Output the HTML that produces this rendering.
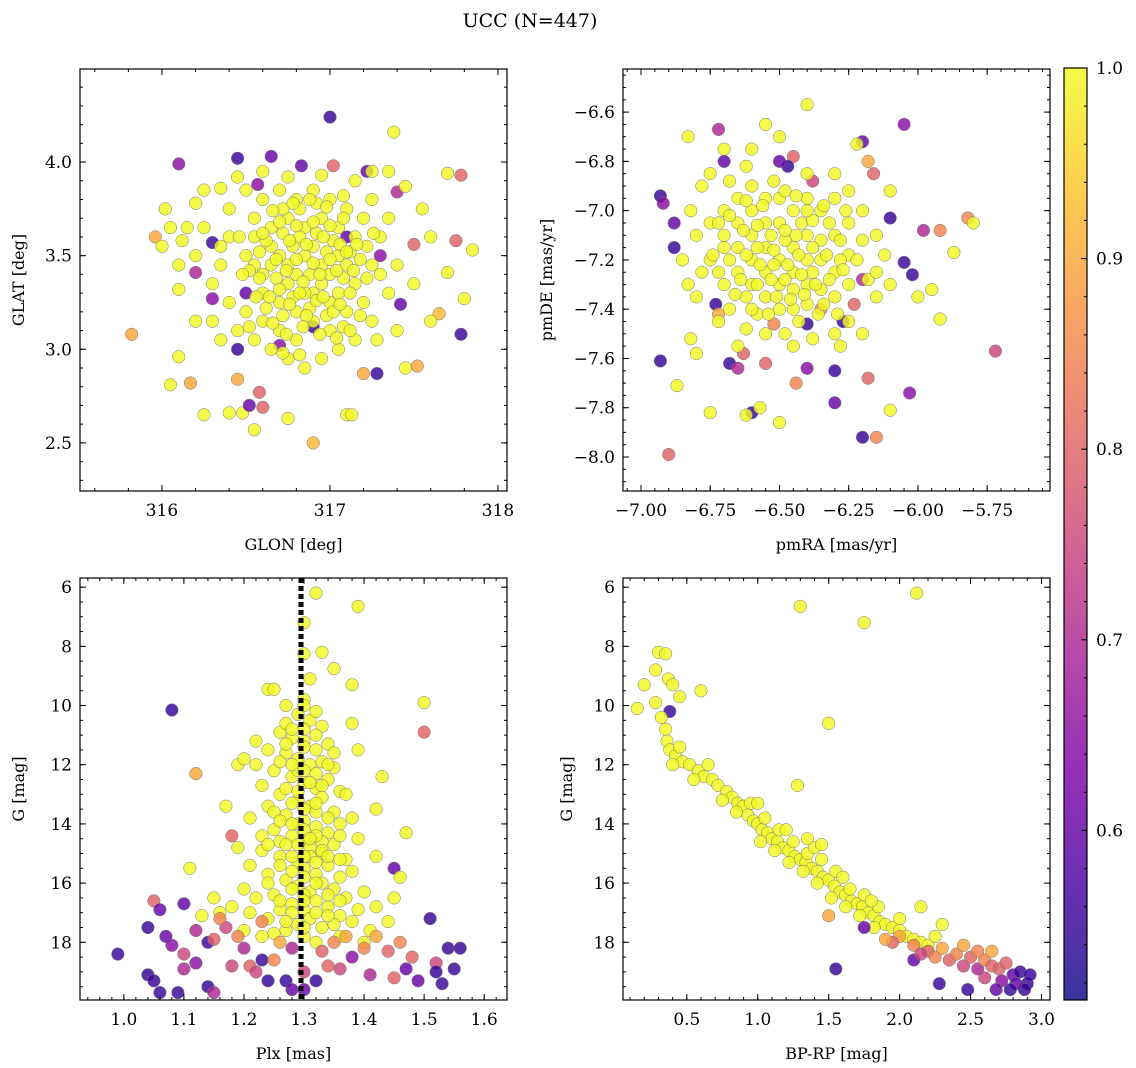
<!DOCTYPE html>
<html><head><meta charset="utf-8">
<style>
html,body{margin:0;padding:0;background:#fff;}
svg{display:block;font-family:"DejaVu Serif","Liberation Serif",serif;}
</style></head>
<body>
<svg id="fig" width="1136" height="1068" viewBox="0 0 1136 1068" xmlns="http://www.w3.org/2000/svg">
<defs>
<linearGradient id="plasma" x1="0" y1="1" x2="0" y2="0">
<stop offset="0" stop-color="#0d0887"/><stop offset="0.125" stop-color="#4c02a1"/>
<stop offset="0.25" stop-color="#7e03a8"/><stop offset="0.375" stop-color="#a92395"/>
<stop offset="0.5" stop-color="#cc4778"/><stop offset="0.625" stop-color="#e66c5c"/>
<stop offset="0.75" stop-color="#f89540"/><stop offset="0.875" stop-color="#fdc527"/>
<stop offset="1" stop-color="#f0f921"/>
</linearGradient>
</defs>
<text x="530" y="27" font-size="19" text-anchor="middle">UCC (N=447)</text>
</svg>
<script>
// Panel 1: GLON / GLAT / probability
const panel1Stars = [
[317.0,4.24,0.55],[317.38,4.16],[316.1,3.99,0.65],[316.45,4.02,0.55],[316.65,4.03,0.6],[316.83,3.98,0.6],[317.02,3.98,0.8],[317.22,3.95,0.6],[317.25,3.95],[317.7,3.94],[317.78,3.93,0.8],[316.02,3.75],[315.96,3.6,0.9],[315.82,3.08,0.9],[316.05,2.81],[316.1,2.96],[316.17,2.82,0.9],[316.25,2.65],[316.4,2.66],[316.48,2.66],[316.55,2.57],[316.52,2.7,0.6],[316.58,2.77,0.8],[316.6,2.69,0.8],[316.75,2.63],[316.9,2.5,0.92],[317.1,2.65],[317.13,2.65],[317.2,2.87,0.9],[317.28,2.87,0.55],[317.45,2.9],[317.52,2.91,0.9],[317.65,3.19,0.92],[317.78,3.08,0.55],[317.8,3.27],[317.85,3.53],[317.75,3.58,0.8],[317.7,3.41],[317.5,3.56,0.8],[317.42,3.24,0.6],[317.4,3.84,0.7],[317.45,3.87],[316.45,3.0,0.55],[316.5,3.3,0.6],[316.3,3.27,0.65],[316.3,3.57,0.55],[316.2,3.41,0.7],[316.1,3.32],[316.12,3.58],[316.2,3.78],[316.35,3.86],[316.45,2.84,0.9],[316.57,3.88,0.65],[317.3,3.5,0.65],[316.9,3.12,0.55],[317.1,3.6,0.6],[316.7,3.02,0.65],
[316.4,3.6],[316.5,3.5],[316.55,3.45],[316.6,3.4],[316.65,3.55],[316.7,3.5],[316.75,3.45],[316.8,3.4],[316.85,3.5],[316.9,3.55],[316.95,3.45],[317.0,3.4],[317.05,3.5],[317.1,3.45],[316.6,3.3],[316.7,3.25],[316.8,3.2],[316.9,3.3],[317.0,3.25],[316.75,3.35],[316.85,3.3],[316.95,3.35],[317.05,3.3],[317.15,3.35],[316.65,3.65],[316.75,3.7],[316.85,3.65],[316.95,3.7],[317.05,3.65],[317.15,3.6],[316.55,3.7],[316.5,3.2],[316.6,3.15],[316.7,3.1],[316.8,3.05],[316.9,3.15],[317.0,3.1],[317.1,3.2],[317.2,3.25],[317.25,3.45],[317.3,3.6],[317.2,3.7],[317.1,3.75],[317.0,3.8],[316.9,3.85],[316.8,3.8],[316.7,3.85],[316.6,3.8],[316.5,3.85],[316.4,3.75],[316.35,3.45],[316.3,3.35],[316.4,3.25],[316.45,3.1],[316.55,3.05],[316.65,3.0],[316.75,2.95],[316.85,2.9],[316.95,2.95],[317.05,3.0],[317.15,3.05],[317.25,3.15],[317.35,3.3],[317.3,3.4],[317.35,3.7],[317.25,3.8],[317.15,3.9],[316.95,3.93],[316.75,3.92],[316.6,3.95],[316.45,3.92],[316.35,3.55],[316.25,3.65],[316.2,3.5],[316.3,3.15],[316.35,3.05],[316.2,3.15],[316.15,3.65],[316.05,3.65],[316.25,3.85],[316.55,3.6],[316.65,3.45],[316.72,3.62],[316.78,3.55],[316.82,3.6],[316.88,3.4],[316.92,3.62],[316.98,3.52],[317.02,3.58],[317.08,3.38],[317.12,3.52],[317.18,3.48],[316.62,3.22],[316.72,3.18],[316.78,3.28],[316.88,3.22],[316.98,3.18],[317.08,3.12],[316.58,3.52],[316.68,3.38],[317.22,3.55],[317.28,3.05],[317.4,3.1],[317.5,3.35],[317.6,3.15],[317.55,3.75],[317.6,3.6],[317.35,3.95],[316.1,3.45],[316.0,3.55],[317.4,3.45],[316.82,3.75],[316.92,3.78],[316.72,3.75],
[316.52,3.42],[316.58,3.38],[316.62,3.58],[316.68,3.48],[316.74,3.42],[316.76,3.58],[316.8,3.48],[316.84,3.36],[316.86,3.56],[316.9,3.46],[316.94,3.4],[316.96,3.6],[317.0,3.48],[317.04,3.42],[317.06,3.56],[317.1,3.52],[317.14,3.42],[317.16,3.56],[316.64,3.28],[316.7,3.32],[316.76,3.24],[316.82,3.3],[316.86,3.18],[316.92,3.26],[316.96,3.28],[317.02,3.2],[317.06,3.24],[317.12,3.3],[317.18,3.18],[316.66,3.14],[316.74,3.08],[316.84,3.12],[316.94,3.08],[317.04,3.06],[316.6,3.62],[316.7,3.68],[316.8,3.66],[316.9,3.68],[317.0,3.66],[317.08,3.7],[316.66,3.74],[316.78,3.78],[316.88,3.8],[316.98,3.76],[317.08,3.82],[316.56,3.28],[316.48,3.4],[316.46,3.6],[317.22,3.38],[317.26,3.62],[316.72,2.98],[316.82,2.97],[316.52,3.12],[317.12,3.1]
];
// Panel 2: pmRA / pmDE / probability
const panel2Stars = [
[-6.93,-6.94,0.55],[-6.92,-6.97,0.65],[-6.88,-7.05,0.6],[-6.88,-7.15,0.55],[-6.93,-7.61,0.55],[-6.9,-7.99,0.8],[-6.72,-6.67,0.7],[-6.7,-6.8,0.6],[-6.73,-7.38,0.55],[-6.72,-7.42,0.9],[-6.68,-7.62,0.55],[-6.65,-7.64,0.7],[-6.6,-7.82,0.55],[-6.55,-7.62,0.8],[-6.63,-7.58,0.8],[-6.45,-6.78,0.8],[-6.47,-6.82,0.55],[-6.5,-6.8,0.6],[-6.38,-6.88,0.75],[-6.4,-7.64,0.65],[-6.4,-7.46,0.55],[-6.3,-7.65,0.55],[-6.3,-7.78,0.6],[-6.27,-7.45,0.55],[-6.2,-6.72,0.6],[-6.2,-7.28,0.7],[-6.18,-7.68,0.8],[-6.2,-7.92,0.55],[-6.15,-7.92,0.85],[-6.18,-6.8,0.9],[-6.16,-6.85,0.8],[-6.1,-7.03,0.55],[-6.05,-6.65,0.65],[-6.05,-7.21,0.55],[-6.02,-7.26,0.55],[-6.03,-7.74,0.65],[-5.98,-7.08,0.7],[-5.92,-7.08,0.85],[-5.82,-7.03,0.85],[-5.72,-7.57,0.75],[-6.35,-7.4,0.85],[-6.23,-7.38,0.8],[-6.52,-7.46,0.85],[-6.44,-7.7,0.85],
[-6.83,-6.7],[-6.87,-7.71],[-6.82,-7.52],[-6.8,-7.58],[-6.75,-7.82],[-6.62,-7.83],[-6.57,-7.8],[-6.5,-7.86],[-6.1,-7.81],[-5.95,-7.32],[-5.92,-7.44],[-5.87,-7.17],[-5.8,-7.05],[-6.4,-6.57],[-6.55,-6.65],[-6.5,-6.7],[-6.22,-6.73],[-6.1,-6.92],[-6.0,-7.35],[-6.15,-7.35],
[-6.7,-7.0],[-6.65,-7.05],[-6.6,-7.1],[-6.55,-7.15],[-6.5,-7.2],[-6.45,-7.25],[-6.4,-7.3],[-6.35,-7.2],[-6.3,-7.1],[-6.25,-7.05],[-6.6,-7.3],[-6.55,-7.35],[-6.5,-7.3],[-6.45,-7.15],[-6.4,-7.1],[-6.35,-7.0],[-6.3,-7.25],[-6.25,-7.3],[-6.5,-7.05],[-6.45,-7.0],[-6.4,-6.95],[-6.55,-6.95],[-6.6,-6.9],[-6.65,-6.95],[-6.7,-7.15],[-6.75,-7.2],[-6.7,-7.3],[-6.65,-7.25],[-6.6,-7.2],[-6.55,-7.25],[-6.5,-7.4],[-6.45,-7.4],[-6.4,-7.38],[-6.35,-7.32],[-6.3,-7.35],[-6.25,-7.18],[-6.2,-7.12],[-6.2,-7.0],[-6.25,-6.92],[-6.3,-6.95],[-6.35,-7.12],[-6.4,-7.2],[-6.45,-7.32],[-6.55,-7.05],[-6.6,-7.0],[-6.65,-7.15],[-6.7,-7.1],[-6.75,-7.05],[-6.8,-7.1],[-6.78,-7.25],[-6.72,-7.45],[-6.62,-7.48],[-6.55,-7.5],[-6.48,-7.5],[-6.38,-7.52],[-6.28,-7.55],[-6.22,-7.2],[-6.18,-7.28],[-6.15,-7.1],[-6.12,-7.18],[-6.3,-6.85],[-6.4,-6.85],[-6.52,-6.88],[-6.62,-6.82],[-6.68,-6.88],[-6.78,-6.9],[-6.82,-7.0],[-6.85,-7.2],[-6.8,-7.35],[-6.68,-7.4],[-6.58,-7.42],[-6.42,-7.05],[-6.48,-7.12],[-6.52,-7.22],[-6.58,-7.15],[-6.38,-7.25],[-6.32,-7.05],[-6.28,-7.2],[-6.62,-7.35],[-6.48,-7.28],[-6.44,-7.1],[-6.36,-7.42],[-6.7,-6.75],[-6.6,-6.75],[-6.75,-6.85],[-6.83,-7.3],[-6.65,-7.55],[-6.45,-7.55],[-6.3,-7.5],[-6.25,-7.45],[-6.2,-7.5],[-6.15,-7.25],[-6.1,-7.3],
[-6.68,-7.02],[-6.63,-7.08],[-6.58,-7.06],[-6.53,-7.1],[-6.48,-7.08],[-6.43,-7.18],[-6.38,-7.15],[-6.33,-7.18],[-6.28,-7.12],[-6.62,-7.18],[-6.57,-7.22],[-6.52,-7.16],[-6.47,-7.22],[-6.42,-7.26],[-6.37,-7.3],[-6.32,-7.28],[-6.27,-7.24],[-6.64,-7.28],[-6.58,-7.3],[-6.53,-7.28],[-6.46,-7.36],[-6.41,-7.34],[-6.34,-7.38],[-6.66,-7.34],[-6.56,-6.98],[-6.5,-6.95],[-6.44,-6.94],[-6.38,-7.04],[-6.34,-6.98],[-6.62,-6.96],[-6.72,-7.05],[-6.74,-7.18],[-6.72,-7.25],[-6.68,-7.2],[-6.51,-7.35],[-6.54,-7.42],[-6.6,-7.4],[-6.43,-7.45],[-6.29,-7.42],[-6.26,-7.0],[-6.48,-6.92],[-6.4,-7.0]
];
// Panel 3: Plx / G / probability
const panel3Stars = [
[1.32,6.2],[1.39,6.65],[1.3,7.2],[1.3,8.25],[1.33,8.2],[1.35,8.75],[1.24,9.45],[1.25,9.45],[1.31,9.1],[1.38,9.3],[1.5,9.9],[1.12,12.3,0.9],[1.11,15.5],[1.17,13.4],[1.19,14.8],[1.43,12.4],[1.42,13.5],[1.47,14.3],[1.5,10.9,0.8],[1.08,10.15,0.55],[1.18,14.4,0.8],[1.19,12.0],[1.2,11.8],[1.45,15.5,0.6],
[1.27,10.0],[1.29,10.3],[1.31,10.5],[1.33,10.7],[1.26,10.9],[1.28,11.1],[1.3,11.2],[1.32,11.0],[1.34,11.3],[1.22,11.2],[1.24,11.5],[1.27,11.6],[1.29,11.8],[1.31,12.0],[1.33,11.9],[1.35,12.1],[1.25,12.2],[1.28,12.4],[1.3,12.6],[1.32,12.8],[1.34,12.5],[1.36,12.9],[1.23,12.7],[1.26,13.0],[1.29,13.2],[1.31,13.4],[1.33,13.1],[1.35,13.6],[1.24,13.4],[1.27,13.7],[1.3,13.9],[1.32,14.1],[1.34,14.3],[1.36,14.0],[1.38,13.8],[1.25,14.2],[1.28,14.4],[1.3,14.6],[1.31,14.8],[1.33,15.0],[1.35,14.7],[1.37,15.2],[1.23,14.9],[1.26,15.1],[1.29,15.3],[1.3,15.5],[1.32,15.7],[1.34,15.4],[1.36,15.8],[1.38,15.6],[1.21,15.4],[1.24,15.7],[1.27,15.9],[1.29,16.1],[1.31,16.3],[1.33,16.0],[1.35,16.2],[1.37,16.5],[1.4,16.3],[1.2,16.2],[1.22,16.5],[1.25,16.4],[1.28,16.7],[1.3,16.9],[1.32,16.6],[1.34,16.8],[1.36,17.1],[1.39,16.9],[1.42,16.8],[1.18,16.8],[1.21,17.0],[1.24,17.2],[1.26,16.9],[1.29,17.4],[1.31,17.2],[1.33,17.5],[1.35,17.4],[1.38,17.3],[1.41,17.6],[1.44,17.3],[1.16,17.0],[1.2,17.6],[1.23,17.8],[1.27,17.6],[1.3,17.8],[1.32,18.0],[1.36,17.8],[1.4,18.0],[1.26,14.6],[1.28,15.6],[1.32,13.6],[1.35,11.6],[1.29,12.2],[1.3,9.8],[1.3,10.8],[1.27,11.3],[1.33,14.6],[1.31,15.1],[1.29,14.0],[1.25,13.6],[1.37,13.0],[1.39,14.5],[1.21,13.8],[1.23,14.4],[1.45,16.5],[1.46,15.8],[1.15,16.5],[1.13,17.1],[1.42,15.1],[1.39,11.5],[1.38,10.6],[1.22,12.0],
[1.27,10.6],[1.3,10.0],[1.32,10.2],[1.28,10.8],[1.3,11.4],[1.32,11.5],[1.26,11.9],[1.28,12.0],[1.3,12.2],[1.32,12.3],[1.34,12.0],[1.27,12.8],[1.29,12.9],[1.31,12.6],[1.33,12.7],[1.28,13.3],[1.3,13.5],[1.32,13.3],[1.34,13.8],[1.26,13.9],[1.28,14.0],[1.3,14.2],[1.32,14.4],[1.27,14.7],[1.29,14.7],[1.31,14.5],[1.33,14.9],[1.28,15.1],[1.3,15.1],[1.32,15.3],[1.34,15.1],[1.26,15.4],[1.3,15.8],[1.32,16.0],[1.28,16.2],[1.3,16.4],[1.34,16.4],[1.26,16.6],[1.3,16.6],[1.28,17.0],[1.32,17.0],[1.34,17.1],[1.27,17.3],[1.25,17.7],[1.3,17.5],[1.36,16.6],[1.24,16.0],[1.36,15.2],[1.24,14.7],[1.36,14.4],
[1.05,16.6,0.8],[1.06,16.9,0.6],[1.1,16.7,0.6],[1.04,17.5,0.55],[1.07,17.8,0.6],[1.08,18.1,0.65],[1.12,17.6,0.7],[1.14,18.0,0.55],[1.15,17.9,0.8],[1.17,17.5,0.75],[1.19,17.8,0.85],[1.2,18.2,0.7],[1.18,18.8,0.75],[1.21,18.8,0.8],[1.23,18.6,0.55],[1.24,19.3,0.55],[1.25,18.6,0.85],[1.27,19.3,0.55],[1.28,19.6,0.6],[1.3,19.6,0.6],[1.3,19.0,0.75],[1.32,19.3,0.55],[1.34,18.8,0.8],[1.35,18.0,0.85],[1.37,17.8,0.9],[1.38,18.5,0.65],[1.4,18.2,0.85],[1.42,17.8,0.9],[1.44,18.3,0.8],[1.46,18.0,0.85],[1.48,18.5,0.8],[1.41,19.1,0.7],[1.47,18.9,0.6],[1.51,17.2,0.55],[1.52,18.7,0.75],[1.52,19.0,0.55],[1.54,18.2,0.55],[1.56,18.2,0.55],[1.55,18.9,0.55],[1.53,19.4,0.55],[0.99,18.4,0.55],[1.04,19.1,0.55],[1.05,19.3,0.55],[1.06,19.7,0.55],[1.09,19.7,0.55],[1.1,18.9,0.7],[1.12,18.7,0.65],[1.14,19.5,0.55],[1.15,19.7,0.7],[1.1,18.4,0.75],[1.16,17.2,0.85],[1.23,17.3,0.85],[1.28,18.2,0.7],[1.33,18.3,0.8],[1.36,18.9,0.75],[1.45,19.2,0.8],[1.49,19.3,0.6],[1.26,18.0,0.9],[1.22,19.0,0.75]
];
const panel3PlxLine = 1.295;
// Panel 4: BP-RP / G / probability
const panel4Stars = [
[0.3,8.2],[0.35,8.25],[0.28,8.8],[0.37,9.1],[0.4,9.3],[0.45,9.7],[0.2,9.3],[0.28,9.9],[0.15,10.1],[0.6,9.5],[1.3,6.65],[2.12,6.2],[1.75,7.2],[1.5,10.6],[0.38,10.2,0.55],[1.28,12.7],
[0.32,10.4],[0.35,10.8],[0.36,11.2],[0.38,11.5],[0.42,11.7],[0.47,11.9],[0.52,12.0],[0.58,12.2],[0.62,12.4],[0.68,12.5],[0.72,12.7],[0.78,12.9],[0.82,13.1],[0.86,13.3],[0.9,13.4],[0.93,13.7],[0.97,13.9],[1.0,14.0],[1.03,14.2],[1.07,14.3],[1.1,14.5],[1.14,14.6],[1.18,14.8],[1.22,14.9],[1.26,15.1],[1.3,15.2],[1.34,15.3],[1.38,15.5],[1.42,15.6],[1.46,15.8],[1.5,15.9],[1.54,16.1],[1.58,16.3],[1.62,16.4],[1.66,16.6],[1.7,16.7],[1.74,16.8],[1.78,17.0],[1.82,17.1],[1.86,17.3],[1.9,17.4],[1.95,17.5],[2.0,17.6],[2.05,17.8],[2.1,17.9],[2.15,18.0],[2.2,18.1],[0.95,13.3],[1.05,13.8],[1.15,14.2],[1.25,14.6],[1.35,15.0],[1.45,15.2],[1.55,15.6],[1.65,16.2],[1.75,16.4],[1.85,16.8],[1.02,14.6],[1.12,14.9],[1.22,15.3],[1.32,15.6],[1.42,16.0],[1.52,16.5],[1.62,16.8],[1.72,17.1],[1.82,17.5],[0.55,12.5],[0.75,13.2],[0.85,13.6],[0.65,12.0],[0.45,11.4],[0.4,12.0],[1.0,13.3],[1.2,14.2],[1.4,14.8],[1.6,15.8],[1.8,16.6],[2.0,17.2],[2.15,16.8],[2.25,17.8],[2.3,17.4],[1.45,14.7],[1.35,14.5],[1.5,17.1,0.9],
[2.0,17.8,0.9],[2.1,18.1,0.85],[2.2,18.3,0.8],[2.25,18.5,0.85],[2.3,18.2,0.9],[2.35,18.6,0.8],[2.4,18.4,0.85],[2.45,18.8,0.75],[2.5,18.5,0.8],[2.55,18.9,0.7],[2.6,18.6,0.85],[2.65,18.3,0.9],[2.7,18.9,0.8],[2.72,19.3,0.65],[2.75,18.7,0.8],[2.8,19.1,0.6],[2.85,19.0,0.55],[2.9,19.4,0.55],[2.88,19.6,0.55],[2.82,19.4,0.6],[2.78,19.6,0.55],[2.92,19.1,0.55],[2.68,19.6,0.6],[2.6,19.2,0.75],[2.48,19.6,0.55],[2.28,19.4,0.55],[2.1,18.6,0.6],[1.75,17.5,0.6],[1.55,18.9,0.55],[2.45,18.1,0.9],[2.55,18.3,0.85],[2.65,18.8,0.8],[1.95,18.0,0.8],[2.15,18.4,0.75],[1.9,17.9,0.9]
];
const panel1XTicks = [316,317,318];
const panel1YTicks = [2.5,3.0,3.5,4.0];
const panel2XTicks = [-7.0,-6.75,-6.5,-6.25,-6.0,-5.75];
const panel2YTicks = [-8.0,-7.8,-7.6,-7.4,-7.2,-7.0,-6.8,-6.6];
const panel3XTicks = [1.0,1.1,1.2,1.3,1.4,1.5,1.6];
const gTicks = [6,8,10,12,14,16,18];
const panel4XTicks = [0.5,1.0,1.5,2.0,2.5,3.0];
const cbarTicks = [0.6,0.7,0.8,0.9,1.0];
const cbarMin = 0.511, cbarMax = 1.0;

const NS = "http://www.w3.org/2000/svg";
const svg = document.getElementById('fig');
function mk(tag, attrs, parent){const e=document.createElementNS(NS,tag);for(const k in attrs)e.setAttribute(k,attrs[k]);(parent||svg).appendChild(e);return e;}

const plasmaStops=[[0,13,8,135],[0.125,76,2,161],[0.25,126,3,168],[0.375,169,35,149],[0.5,204,71,120],[0.625,230,108,92],[0.75,248,149,64],[0.875,253,197,39],[1,240,249,33]];
function plasma(v){let t=(v-cbarMin)/(cbarMax-cbarMin);t=Math.max(0,Math.min(1,t));
 for(let i=1;i<plasmaStops.length;i++){if(t<=plasmaStops[i][0]){const a=plasmaStops[i-1],b=plasmaStops[i];const f=(t-a[0])/(b[0]-a[0]);
 return 'rgb('+[1,2,3].map(j=>Math.round(a[j]+(b[j]-a[j])*f)).join(',')+')';}}return 'rgb(240,249,33)';}

function fmt(v,d){return (v<0?'\u2212':'')+Math.abs(v).toFixed(d);}

function panel(cfg){
 const {name,L,R,T,B,x0,x1,y0,y1,yInv,xTicks,yTicks,xMinor,yMinor,xd,yd,xLabel,yLabel,stars}=cfg;
 const g=mk('g',{});
 
 
 const sx=v=>L+(v-x0)/(x1-x0)*(R-L);
 const sy=v=>yInv? T+(v-y0)/(y1-y0)*(B-T) : B-(v-y0)/(y1-y0)*(B-T);
 const clip=mk('clipPath',{id:'clip-'+name},g);mk('rect',{x:L,y:T,width:R-L,height:B-T},clip);
 const pts=mk('g',{'clip-path':'url(#clip-'+name+')'},g);
 
 
 stars.forEach(s=>{const p=s.length>2?s[2]:1;
  const c=mk('circle',{cx:sx(s[0]).toFixed(1),cy:sy(s[1]).toFixed(1),r:6.3,fill:plasma(p),'fill-opacity':0.82,stroke:'#777','stroke-width':0.5},pts);
  
  });
 if(cfg.vline!==undefined){const l=mk('line',{x1:sx(cfg.vline),x2:sx(cfg.vline),y1:T,y2:B,stroke:'#000','stroke-width':5,'stroke-dasharray':'5,3'},g);
  
  }
 const lo=Math.min(x0,x1),hi=Math.max(x0,x1);
 for(let v=Math.ceil(lo/xMinor-1e-6)*xMinor;v<=hi+1e-9;v+=xMinor){const x=sx(v);mk('line',{x1:x,x2:x,y1:B,y2:B-3,stroke:'#000'},g);mk('line',{x1:x,x2:x,y1:T,y2:T+3,stroke:'#000'},g);}
 const ylo=Math.min(y0,y1),yhi=Math.max(y0,y1);
 for(let v=Math.ceil(ylo/yMinor-1e-6)*yMinor;v<=yhi+1e-9;v+=yMinor){const y=sy(v);mk('line',{x1:L,x2:L+3,y1:y,y2:y,stroke:'#000'},g);mk('line',{x1:R,x2:R-3,y1:y,y2:y,stroke:'#000'},g);}
 xTicks.forEach(v=>{const x=sx(v);mk('line',{x1:x,x2:x,y1:B,y2:B-6,stroke:'#000'},g);mk('line',{x1:x,x2:x,y1:T,y2:T+6,stroke:'#000'},g);
  const t=mk('text',{x:x,y:B+25,'font-size':17,'text-anchor':'middle'},g);t.textContent=fmt(v,xd);
  
  });
 yTicks.forEach(v=>{const y=sy(v);mk('line',{x1:L,x2:L+6,y1:y,y2:y,stroke:'#000'},g);mk('line',{x1:R,x2:R-6,y1:y,y2:y,stroke:'#000'},g);
  const t=mk('text',{x:L-8,y:y+6,'font-size':17,'text-anchor':'end'},g);t.textContent=fmt(v,yd);
  
  });
 const fr=mk('rect',{x:L,y:T,width:R-L,height:B-T,fill:'none',stroke:'#000','stroke-width':1.2},g);
 
 
 const xl=mk('text',{x:(L+R)/2,y:B+59,'font-size':16,'text-anchor':'middle'},g);xl.textContent=xLabel;
 
 
 const yl=mk('text',{x:0,y:0,'font-size':16,'text-anchor':'middle',transform:'translate('+cfg.yLabelX+','+((T+B)/2)+') rotate(-90)'},g);yl.textContent=yLabel;
 
 
}

panel({name:'glon-glat-panel',L:80,R:507,T:69,B:491,x0:315.512,x1:318.054,y0:2.243,y1:4.497,yInv:false,xTicks:panel1XTicks,yTicks:panel1YTicks,xMinor:0.2,yMinor:0.1,xd:0,yd:1,xLabel:'GLON [deg]',yLabel:'GLAT [deg]',yLabelX:24,stars:panel1Stars});
panel({name:'proper-motion-panel',L:623,R:1050,T:69,B:491,x0:-7.065,x1:-5.523,y0:-8.138,y1:-6.425,yInv:false,xTicks:panel2XTicks,yTicks:panel2YTicks,xMinor:0.05,yMinor:0.05,xd:2,yd:1,xLabel:'pmRA [mas/yr]',yLabel:'pmDE [mas/yr]',yLabelX:552,stars:panel2Stars});
panel({name:'plx-g-panel',L:80,R:507,T:578,B:1000,x0:0.927,x1:1.638,y0:5.69,y1:19.95,yInv:true,xTicks:panel3XTicks,yTicks:gTicks,xMinor:0.02,yMinor:0.5,xd:1,yd:0,xLabel:'Plx [mas]',yLabel:'G [mag]',yLabelX:24,stars:panel3Stars,vline:panel3PlxLine});
panel({name:'cmd-panel',L:623,R:1050,T:578,B:1000,x0:0.05,x1:3.06,y0:5.69,y1:19.95,yInv:true,xTicks:panel4XTicks,yTicks:gTicks,xMinor:0.1,yMinor:0.5,xd:1,yd:0,xLabel:'BP-RP [mag]',yLabel:'G [mag]',yLabelX:572,stars:panel4Stars});

const cb=mk('g',{});


mk('rect',{x:1064,y:68,width:23,height:932,fill:'url(#plasma)','fill-opacity':0.82},cb);
mk('rect',{x:1064,y:68,width:23,height:932,fill:'none',stroke:'#000','stroke-width':1.2},cb);
const cy=v=>1000-(v-cbarMin)/(cbarMax-cbarMin)*932;
for(let v=0.52;v<=1.0001;v+=0.02){mk('line',{x1:1087,x2:1084,y1:cy(v),y2:cy(v),stroke:'#000'},cb);}
cbarTicks.forEach(v=>{const y=cy(v);mk('line',{x1:1087,x2:1081,y1:y,y2:y,stroke:'#000'},cb);
 const t=mk('text',{x:1096,y:y+6,'font-size':17},cb);t.textContent=v.toFixed(1);
 
 });
</script>
</body></html>
